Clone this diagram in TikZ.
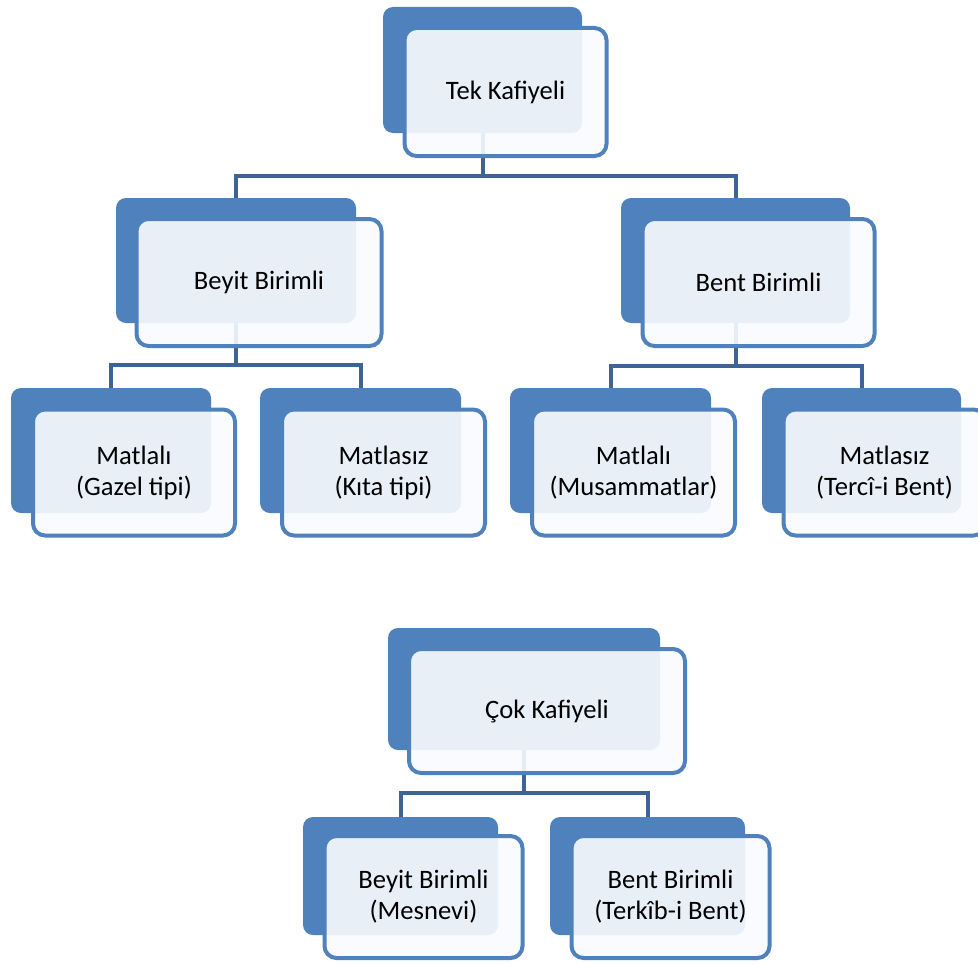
\documentclass[tikz,border=0pt]{standalone}
\usepackage{fontspec}
\setmainfont{Carlito}
\definecolor{boxblue}{RGB}{79,129,189}
\definecolor{linkblue}{RGB}{62,100,150}
\definecolor{boxfill}{RGB}{249,251,254}

\begin{document}
\begin{tikzpicture}[x=0.5pt, y=-0.5pt,
        back/.style = {draw=none, fill=boxblue, rounded corners=5pt, inner sep=0pt},
        front/.style = {draw=boxblue, line width=2pt, fill=boxfill, fill opacity=0.9, text opacity=1, text=black,
                        rounded corners=6pt, align=center, inner sep=0pt, font=\fontsize{13.3}{15.5}\selectfont},
        link/.style = {draw=linkblue, line width=2pt}]
    \useasboundingbox (0,0) rectangle (978,963);
    \node[back, minimum width=99.5pt, minimum height=63pt] (tekB) at (482.5,70) {};
    \node[back, minimum width=120pt, minimum height=62.5pt] (beyitB) at (236,260.5) {};
    \node[back, minimum width=114.5pt, minimum height=62.5pt] (bentB) at (735.5,260.5) {};
    \node[back, minimum width=100pt, minimum height=62.5pt] (matlali1B) at (111,450.5) {};
    \node[back, minimum width=100.5pt, minimum height=62.5pt] (matlasiz1B) at (360.5,450.5) {};
    \node[back, minimum width=100.5pt, minimum height=62.5pt] (matlali2B) at (610.5,450.5) {};
    \node[back, minimum width=99.5pt, minimum height=62.5pt] (matlasiz2B) at (861.5,450.5) {};
    \node[back, minimum width=136pt, minimum height=61pt] (cokB) at (524,689) {};
    \node[back, minimum width=97.5pt, minimum height=59pt] (mesneviB) at (400.5,876) {};
    \node[back, minimum width=97.5pt, minimum height=59pt] (terkibB) at (647.5,876) {};

    \coordinate (bus1) at (482.5,176);
    \coordinate (bus2) at (236,365);
    \coordinate (bus3) at (735.5,366);
    \coordinate (bus4) at (524,793);
    \draw[link] (tekB.south) -- (bus1) -| (beyitB.north);
    \draw[link] (bus1) -| (bentB.north);
    \draw[link] (beyitB.south) -- (bus2) -| (matlali1B.north);
    \draw[link] (bus2) -| (matlasiz1B.north);
    \draw[link] (bentB.south) -- (bus3) -| (matlali2B.north);
    \draw[link] (bus3) -| (matlasiz2B.north);
    \draw[link] (cokB.south) -- (bus4) -| (mesneviB.north);
    \draw[link] (bus4) -| (terkibB.north);

    \node[front, minimum width=101pt, minimum height=64pt] (tek) at ([shift={(23,22)}]tekB) {Tek Kafiyeli};
    \node[front, minimum width=122.5pt, minimum height=63.5pt] (beyit) at ([shift={(23,22)}]beyitB) {Beyit Birimli};
    \node[front, minimum width=116pt, minimum height=63.5pt] (bent) at ([shift={(23,22)}]bentB) {Bent Birimli};
    \node[front, minimum width=101pt, minimum height=63pt] (matlali1) at ([shift={(23,22)}]matlali1B) {Matlalı\\(Gazel tipi)};
    \node[front, minimum width=101.5pt, minimum height=63pt] (matlasiz1) at ([shift={(23,22)}]matlasiz1B) {Matlasız\\(Kıta tipi)};
    \node[front, minimum width=101.5pt, minimum height=63pt] (matlali2) at ([shift={(23,22)}]matlali2B) {Matlalı\\(Musammatlar)};
    \node[front, minimum width=101pt, minimum height=63pt] (matlasiz2) at ([shift={(23,22)}]matlasiz2B) {Matlasız\\(Tercî-i Bent)};
    \node[front, minimum width=138pt, minimum height=62pt] (cok) at ([shift={(23,22)}]cokB) {Çok Kafiyeli};
    \node[front, minimum width=99pt, minimum height=61pt] (mesnevi) at ([shift={(23,21)}]mesneviB) {Beyit Birimli\\(Mesnevi)};
    \node[front, minimum width=99pt, minimum height=61pt] (terkib) at ([shift={(23,21)}]terkibB) {Bent Birimli\\(Terkîb-i Bent)};
\end{tikzpicture}
\end{document}
